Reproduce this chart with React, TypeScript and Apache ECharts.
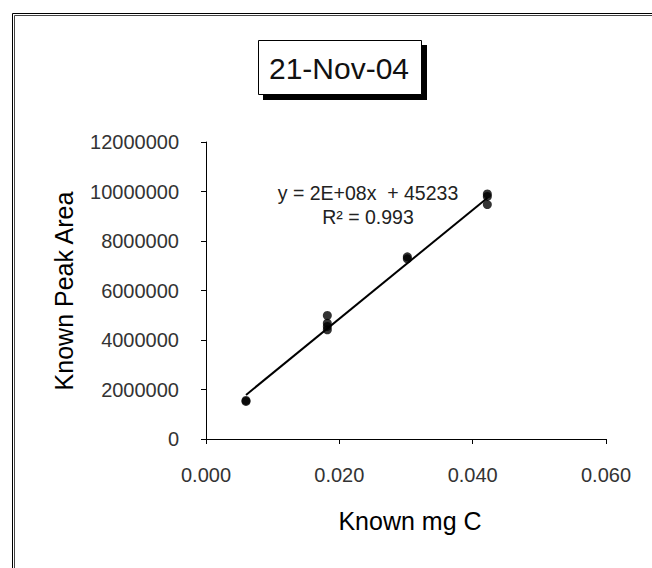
import React, { useEffect, useRef } from "react";
import * as echarts from "echarts";

const knownMgC = [0.006, 0.006, 0.0182, 0.0182, 0.0182, 0.0182, 0.0302, 0.0302, 0.0422, 0.0422, 0.0422];
const knownPeakArea = [1520000, 1560000, 4990000, 4680000, 4550000, 4410000, 7360000, 7280000, 9900000, 9800000, 9470000];
const trendX = [0.006, 0.0422];
const trendY = [1780000, 9740000];
const xTicks = ["0.000", "0.020", "0.040", "0.060"];
const titleText = "21-Nov-04";
const equationText = "y = 2E+08x\u00a0 + 45233";
const r2Text = "R² = 0.993";
const xTitle = "Known mg C";
const yTitle = "Known Peak Area";

export default function App() {
  const ref = useRef<HTMLDivElement>(null);
  useEffect(() => {
    if (!ref.current) return;
    const chart = echarts.init(ref.current, null, { renderer: "svg" });
    const font = "'Liberation Sans', Arial, sans-serif";
    const points = knownMgC.map((x, i) => [x, knownPeakArea[i]]);
    const trend = trendX.map((x, i) => [x, trendY[i]]);
    chart.setOption({
      animation: false,
      backgroundColor: "#fff",
      grid: { left: 206, right: 46, top: 142, bottom: 129, containLabel: false },
      xAxis: {
        type: "value",
        min: 0,
        max: 0.06,
        interval: 0.02,
        splitLine: { show: false },
        axisLine: { lineStyle: { color: "#000", width: 1 } },
        axisTick: { show: true, length: 5, lineStyle: { color: "#000" } },
        axisLabel: {
          margin: 26,
          color: "#333",
          fontFamily: font,
          fontSize: 20,
          formatter: (v: number) => xTicks[Math.round(v / 0.02)] ?? v.toFixed(3),
        },
      },
      yAxis: {
        type: "value",
        min: 0,
        max: 12000000,
        interval: 2000000,
        splitLine: { show: false },
        axisLine: { show: true, lineStyle: { color: "#000", width: 1 } },
        axisTick: { show: true, length: 5, lineStyle: { color: "#000" } },
        axisLabel: {
          margin: 27,
          color: "#333",
          fontFamily: font,
          fontSize: 20,
          formatter: (v: number) => String(Math.round(v)),
        },
      },
      series: [
        {
          type: "line",
          data: trend,
          symbol: "none",
          lineStyle: { color: "#000", width: 2 },
          z: 2,
        },
        {
          type: "scatter",
          data: points,
          symbol: "circle",
          symbolSize: 9,
          itemStyle: { color: "#000" },
          z: 3,
        },
      ],
      graphic: [
        { type: "rect", shape: { x: 12.5, y: 13.5, width: 700, height: 600 }, style: { fill: "none", stroke: "#000", lineWidth: 1 }, silent: true },
        { type: "rect", shape: { x: 14.5, y: 15.5, width: 700, height: 600 }, style: { fill: "none", stroke: "#444", lineWidth: 1 }, silent: true },
        { type: "rect", shape: { x: 263, y: 45, width: 164, height: 55 }, style: { fill: "#000" }, silent: true },
        { type: "rect", shape: { x: 258.5, y: 40.5, width: 163, height: 54 }, style: { fill: "#fff", stroke: "#000", lineWidth: 1 }, silent: true },
        { type: "text", x: 339, y: 68, style: { text: titleText, fontFamily: font, fontSize: 30, fill: "#111", align: "center", verticalAlign: "middle" }, silent: true },
        { type: "text", x: 368, y: 193, style: { text: equationText, fontFamily: font, fontSize: 19.5, fill: "#222", align: "center", verticalAlign: "middle" }, silent: true },
        { type: "text", x: 368, y: 217, style: { text: r2Text, fontFamily: font, fontSize: 19.5, fill: "#222", align: "center", verticalAlign: "middle" }, silent: true },
        { type: "text", x: 410, y: 521, style: { text: xTitle, fontFamily: font, fontSize: 25, fill: "#000", align: "center", verticalAlign: "middle" }, silent: true },
        { type: "text", x: 64, y: 291, rotation: Math.PI / 2, style: { text: yTitle, fontFamily: font, fontSize: 25, fill: "#000", align: "center", verticalAlign: "middle" }, silent: true },
      ],
    });
    return () => chart.dispose();
  }, []);
  return <div ref={ref} style={{ position: "absolute", left: 0, top: 0, width: 652, height: 568 }} />;
}
